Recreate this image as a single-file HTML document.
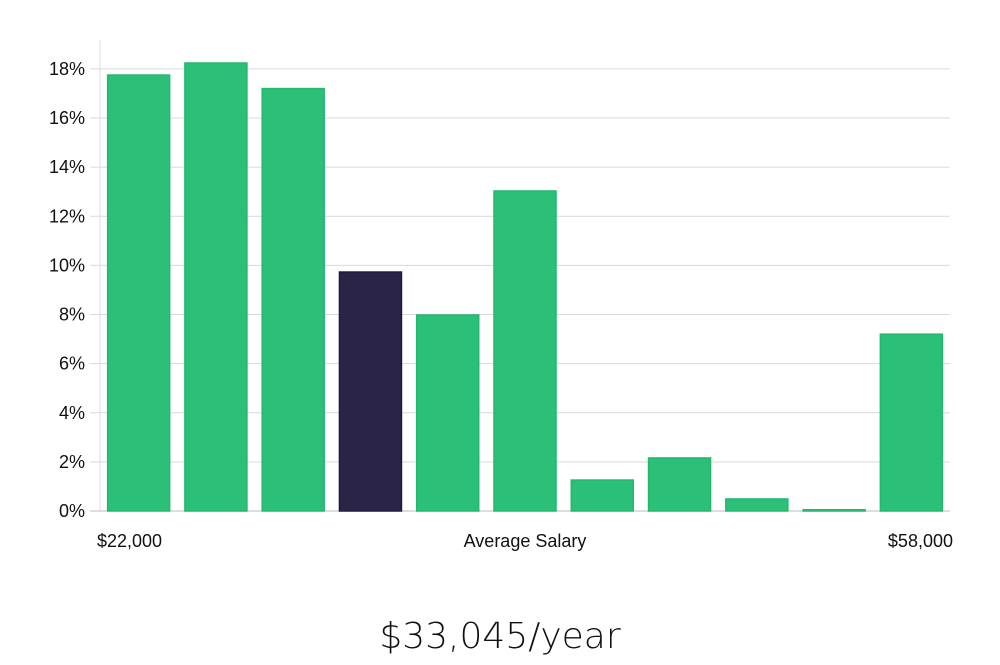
<!DOCTYPE html>
<html><head><meta charset="utf-8">
<style>
body{margin:0;background:#fff;width:1000px;height:660px;overflow:hidden;font-family:"Liberation Sans","DejaVu Sans",sans-serif;}
</style></head>
<body>
<svg id="chart" width="1000" height="660" xmlns="http://www.w3.org/2000/svg">
<g id="grid"></g><g id="bars"></g><g id="labels"></g>
<text x="97" y="547" font-size="18" fill="#111">$22,000</text>
<text x="525" y="547" font-size="18" fill="#111" text-anchor="middle">Average Salary</text>
<text x="953" y="547" font-size="18" fill="#111" text-anchor="end">$58,000</text>
<text x="500" y="648" font-size="36" fill="#111" text-anchor="middle" font-family="DejaVu Sans, sans-serif" font-weight="300">$33,045/year</text>
</svg>
<script>
const categories=["b1","b2","b3","b4","b5","b6","b7","b8","b9","b10","b11"];
const values=[17.75,18.24,17.2,9.73,7.98,13.03,1.26,2.16,0.49,0.05,7.2];
const highlightIndex=3;
const yTicks=[0,2,4,6,8,10,12,14,16,18];
const NS="http://www.w3.org/2000/svg";
const left=100,right=950,y0=511,pxPer=24.56;
const y=v=>y0-v*pxPer;
const slot=(right-left)/categories.length;
const x=i=>left+i*slot;
const grid=document.getElementById('grid'),bars=document.getElementById('bars'),labels=document.getElementById('labels');
const ax=document.createElementNS(NS,'line');


ax.setAttribute('x1',left);ax.setAttribute('x2',left);ax.setAttribute('y1',40);ax.setAttribute('y2',y0);ax.setAttribute('stroke','#ddd');
grid.appendChild(ax);
yTicks.forEach(t=>{
 const l=document.createElementNS(NS,'line');
 
 
 l.setAttribute('x1',left-10);l.setAttribute('x2',right);l.setAttribute('y1',y(t));l.setAttribute('y2',y(t));
 l.setAttribute('stroke',t===0?'#bbb':'#d9d9d9');
 grid.appendChild(l);
 const tx=document.createElementNS(NS,'text');
 
 
 tx.setAttribute('x',85);tx.setAttribute('y',y(t)+6);tx.setAttribute('text-anchor','end');
 tx.setAttribute('font-size','18');tx.setAttribute('fill','#111');
 tx.textContent=t+'%';
 labels.appendChild(tx);
});
values.forEach((v,i)=>{
 const r=document.createElementNS(NS,'rect');
 
 
 const w=62;
 r.setAttribute('x',x(i)+(slot-w)/2);r.setAttribute('width',w);
 r.setAttribute('y',y(v));r.setAttribute('height',Math.max(1,y0-y(v)));
 const hi=i===highlightIndex;
 r.setAttribute('fill',hi?'#2a2547':'#2bbf77');
 r.setAttribute('stroke',hi?'#1f1a3d':'#22b86d');r.setAttribute('stroke-width','1.5');
 bars.appendChild(r);
});
</script>
</body></html>
